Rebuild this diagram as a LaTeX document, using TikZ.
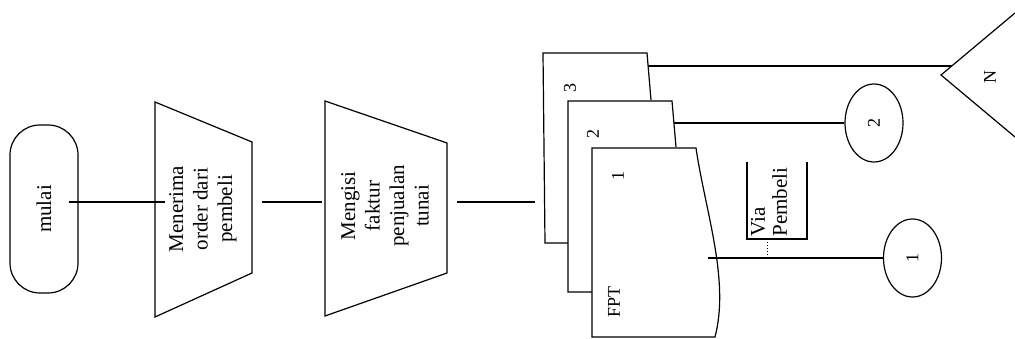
\documentclass[tikz,border=0pt]{standalone}
\usepackage{fontspec}
\setmainfont{Liberation Serif}
\usetikzlibrary{shapes.geometric}
\begin{document}
\begin{tikzpicture}[x=1pt,y=1pt,line width=1.2pt,line join=miter,
  big/.style={font=\fontsize{21}{24.5}\selectfont},
  small/.style={font=\fontsize{18}{21}\selectfont},
  rlabel/.style={rotate=90,align=center,inner sep=0pt},
  conn/.style={draw,line width=1.1pt},
  connector/.style={ellipse,draw,minimum width=58pt,minimum height=78pt,inner sep=0pt,small}]
\useasboundingbox (0,0) rectangle (1015,-339);

% start terminator
\node[draw,rounded corners=30pt,minimum width=68pt,minimum height=168pt,inner sep=0pt,big] (start) at (44,-209) {\rotatebox{90}{mulai}};

% manual operations (trapezoids)
\draw (155,-102) -- (252,-142) -- (252,-273) -- (155,-317) -- cycle;
\node[big,rlabel] (t1) at (203,-209) {Menerima\\order dari\\pembeli};
\coordinate (t1w) at (155,-202);
\coordinate (t1e) at (252,-202);

\draw (325,-101) -- (447,-143) -- (447,-273) -- (325,-316) -- cycle;
\node[big,rlabel] (t2) at (385,-206) {Mengisi\\faktur\\penjualan\\tunai};
\coordinate (t2w) at (325,-202);
\coordinate (t2e) at (447,-202);

% document stack
\draw (651,-100) -- (647,-53) -- (543,-53) -- (545,-243) -- (568,-243);
\draw (676,-147) -- (672,-101) -- (568,-101) -- (568,-292) -- (592,-292);
\draw (592,-148) -- (696,-148) .. controls (705,-210) and (730,-280) .. (715,-337) -- (592,-337) -- cycle;
\coordinate (d3w) at (543,-202);
\coordinate (d3e) at (648,-66);
\coordinate (d2e) at (674,-123);
\coordinate (d1e) at (708,-258);
\node[small,rlabel] (n3) at (570,-88) {3};
\node[small,rlabel] (n2) at (593,-134) {2};
\node[small,rlabel] (n1) at (618,-176) {1};
\node[small,rlabel] (fpt) at (614,-302) {FPT};

% connectors
\draw[conn,shorten <=-10pt,shorten >=-10pt] (start.east |- t1w) -- (t1w);
\draw[conn,shorten <=10pt,shorten >=3pt] (t1e) -- (t2w);
\draw[conn,shorten <=10pt,shorten >=8pt] (t2e) -- (d3w);

% off-page / on-page connectors
\node[connector] (c2) at (874,-123) {\rotatebox{90}{2}};
\node[connector] (c1) at (912.5,-258) {\rotatebox{90}{1}};
\draw[conn] (d2e) -- (c2.west);
\draw[conn] (d1e) -- (c1.west);

% file N
\draw (1015,-13) -- (941,-75) -- (1015,-137);
\coordinate (nin) at (952,-66);
\node[small,rlabel] (N) at (990,-77) {N};
\draw[conn] (d3e) -- (nin);

% annotation
\draw (747,-162) -- (747,-239) -- (807,-239) -- (807,-162);
\node[big,rotate=90,anchor=west,align=left,inner sep=0pt,font=\fontsize{21}{22}\selectfont] (via) at (769,-237) {Via\\Pembeli};
\coordinate (viab) at (767,-239);
\draw[dotted,line width=1pt] (viab) -- (viab |- d1e);
\end{tikzpicture}
\end{document}
